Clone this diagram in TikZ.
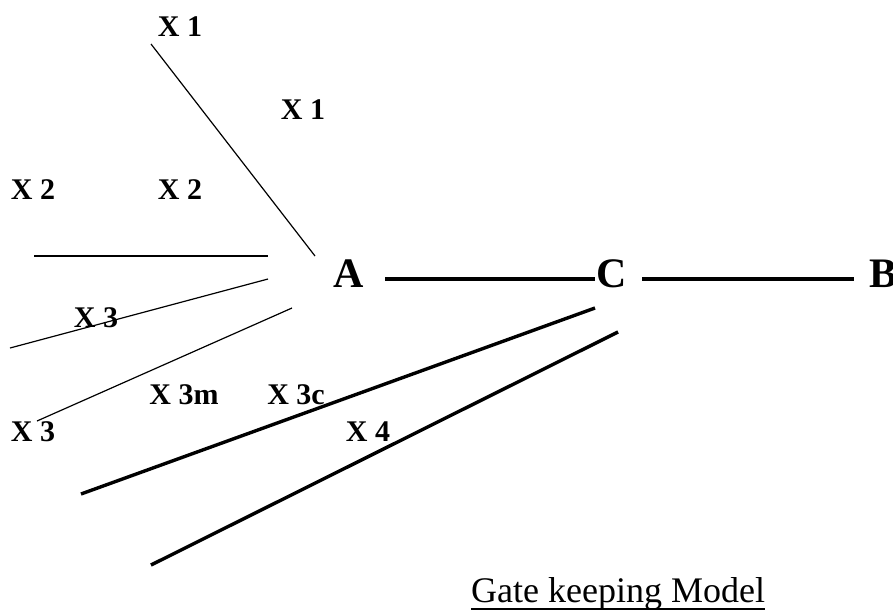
\documentclass[tikz,border=0pt]{standalone}
\usepackage{fontspec}
\setmainfont{Liberation Serif}
\begin{document}
\begin{tikzpicture}[x=1pt,y=-1pt,
  lbl/.style={font=\fontsize{30}{33}\selectfont\bfseries, inner sep=0pt},
  big/.style={font=\fontsize{42}{45}\selectfont\bfseries, inner sep=0pt},
  thin/.style={line width=1.2pt},
  thick4/.style={line width=3.8pt},
  thick3/.style={line width=3.4pt}]
\useasboundingbox (0,0) rectangle (893,614);
\clip (0,0) rectangle (893,614);
% labels
\node[lbl] (x1a) at (180,27) {X 1};
\node[lbl] (x1b) at (303,110) {X 1};
\node[lbl] (x2a) at (33,190) {X 2};
\node[lbl] (x2b) at (180,190) {X 2};
\node[lbl] (x3a) at (96,318) {X 3};
\node[lbl] (x3b) at (33,432) {X 3};
\node[lbl] (x3m) at (184,395) {X 3m};
\node[lbl] (x3c) at (296,395) {X 3c};
\node[lbl] (x4) at (368,432) {X 4};
\node[big] (A) at (349,274) {A};
\node[big] (C) at (612,274) {C};
\node[big] (B) at (883,274) {B};
% free ends
\coordinate (p1s) at (151,44);  \coordinate (p1e) at (315,256);
\coordinate (p2s) at (34,256);  \coordinate (p2e) at (268,256);
\coordinate (p3s) at (10,348);  \coordinate (p3e) at (268,279);
\coordinate (p4s) at (37,421);  \coordinate (p4e) at (292,308);
\coordinate (p5s) at (81,494);  \coordinate (p5e) at (595,308);
\coordinate (p6s) at (151,565); \coordinate (p6e) at (618,332);
\draw[thin] (p1s) -- (p1e);
\draw[thin] (p2s) -- (p2e);
\draw[thin] (p3s) -- (p3e);
\draw[thin] (p4s) -- (p4e);
\draw[thick3] (p5s) -- (p5e);
\draw[thick3] (p6s) -- (p6e);
\draw[thick4, shorten <=21pt, shorten >=2pt] ([yshift=-5pt]A.east) -- ([yshift=-5pt]C.west);
\draw[thick4, shorten <=15pt, shorten >=15pt] ([yshift=-5pt]C.east) -- ([yshift=-5pt]B.west);
% title
\node[inner sep=0pt, anchor=base west, font=\fontsize{36}{40}\selectfont] (title) at (471,602) {Gate keeping Model};
\draw[line width=1.5pt] ([yshift=-7pt]title.base west) -- ([yshift=-7pt]title.base east);
\end{tikzpicture}
\end{document}
